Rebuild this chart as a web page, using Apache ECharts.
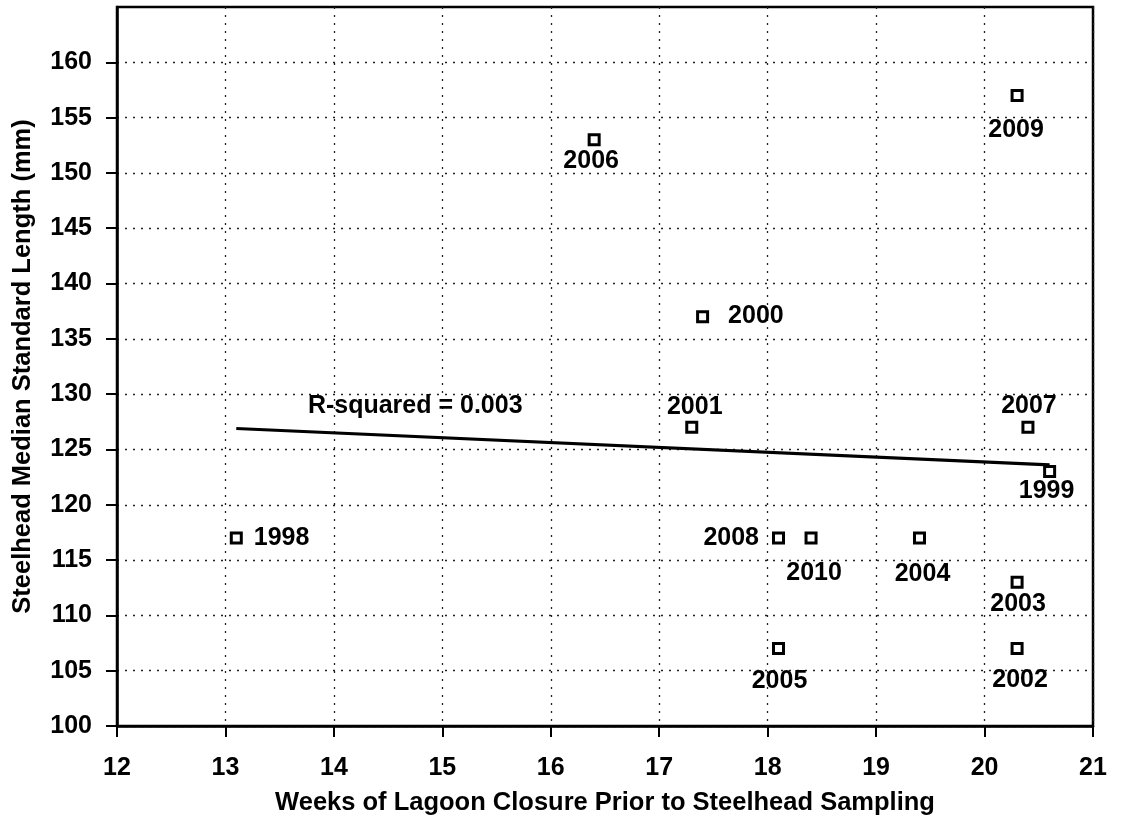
<!DOCTYPE html>
<html>
<head>
<meta charset="utf-8">
<script src="https://cdn.jsdelivr.net/npm/echarts@6/dist/echarts.min.js"></script>
<style>
  html, body { margin: 0; padding: 0; background: #fff; }
  #chart { width: 1122px; height: 823px; }
</style>
</head>
<body>
<div id="chart"></div>
<script>
// Sampling years, weeks of lagoon closure and median standard length (mm)
const years = ['1998', '1999', '2000', '2001', '2002', '2003', '2004', '2005', '2006', '2007', '2008', '2009', '2010'];
const weeksClosed = [13.1, 20.6, 17.4, 17.3, 20.3, 20.3, 19.4, 18.1, 16.4, 20.4, 18.1, 20.3, 18.4];
const medianLength = [117, 123, 137, 127, 107, 113, 117, 107, 153, 127, 117, 157, 117];

const xTicks = [12, 13, 14, 15, 16, 17, 18, 19, 20, 21];
const yTicks = [100, 105, 110, 115, 120, 125, 130, 135, 140, 145, 150, 155, 160];
const fitLabel = 'R-squared = 0.003';

// Where each year label sits relative to its marker
const labelPlacement = {
  '1998': { position: 'right', distance: 11, offset: [0, 0] },
  '1999': { position: 'inside', offset: [-3, 20] },
  '2000': { position: 'right', distance: 19, offset: [0, -1] },
  '2001': { position: 'inside', offset: [3, -20] },
  '2002': { position: 'inside', offset: [3, 32] },
  '2003': { position: 'inside', offset: [1, 22] },
  '2004': { position: 'inside', offset: [3, 36] },
  '2005': { position: 'inside', offset: [1, 33] },
  '2006': { position: 'inside', offset: [-3, 21] },
  '2007': { position: 'inside', offset: [1, -21] },
  '2008': { position: 'left', distance: 13, offset: [0, 0] },
  '2009': { position: 'inside', offset: [-1, 35] },
  '2010': { position: 'inside', offset: [3, 35] }
};

// Least-squares trend of length on weeks, drawn across the observed range
const n = weeksClosed.length;
const mx = weeksClosed.reduce((a, b) => a + b, 0) / n;
const my = medianLength.reduce((a, b) => a + b, 0) / n;
let sxy = 0, sxx = 0;
for (let i = 0; i < n; i++) {
  sxy += (weeksClosed[i] - mx) * (medianLength[i] - my);
  sxx += (weeksClosed[i] - mx) * (weeksClosed[i] - mx);
}
const slope = sxy / sxx;
const intercept = my - slope * mx;
const xLo = Math.min(...weeksClosed), xHi = Math.max(...weeksClosed);
const fitLine = [[xLo, intercept + slope * xLo], [xHi, intercept + slope * xHi]];

const FONT = '"Liberation Sans", Arial, Helvetica, sans-serif';
const textStyle = { fontFamily: FONT, fontWeight: 'bold', fontSize: 25, color: '#000' };
const titleStyle = Object.assign({}, textStyle, { fontSize: 25.5 });

const points = years.map((y, i) => {
  const p = labelPlacement[y];
  return {
    value: [weeksClosed[i], medianLength[i]],
    name: y,
    label: Object.assign({ show: true, formatter: y }, textStyle, p)
  };
});

const chart = echarts.init(document.getElementById('chart'), null, { renderer: 'canvas' });

const gridLine = { show: true, lineStyle: { color: '#222', type: [2, 6], width: 1.3 } };

chart.setOption({
  animation: false,
  backgroundColor: '#fff',
  grid: { left: 117, right: 29, top: 7, bottom: 97, show: true, borderColor: '#000', borderWidth: 2.5, backgroundColor: 'transparent' },
  xAxis: {
    type: 'value', min: 12, max: 21, interval: 1,
    name: 'Weeks of Lagoon Closure Prior to Steelhead Sampling',
    nameLocation: 'middle', nameGap: 64,
    nameTextStyle: titleStyle,
    axisLine: { show: true, onZero: false, lineStyle: { color: '#000', width: 2.5 } },
    axisTick: { show: true, length: 11, lineStyle: { color: '#000', width: 2 }, customValues: xTicks },
    axisLabel: Object.assign({ margin: 30, customValues: xTicks }, textStyle),
    splitLine: gridLine
  },
  yAxis: {
    type: 'value', min: 100, max: 165, interval: 5,
    name: 'Steelhead Median Standard Length (mm)',
    nameLocation: 'middle', nameGap: 81,
    nameTextStyle: titleStyle,
    axisLine: { show: true, onZero: false, lineStyle: { color: '#000', width: 2.5 } },
    axisTick: { show: true, length: 11, lineStyle: { color: '#000', width: 2 }, customValues: yTicks },
    axisLabel: Object.assign({ margin: 25, customValues: yTicks }, textStyle),
    splitLine: gridLine
  },
  series: [
    {
      type: 'line',
      data: fitLine,
      symbol: 'none',
      lineStyle: { color: '#000', width: 3.2 },
      z: 3,
      silent: true
    },
    {
      type: 'scatter',
      data: points,
      symbol: 'rect',
      symbolSize: 10,
      itemStyle: { color: '#fff', borderColor: '#000', borderWidth: 3, opacity: 1 },
      z: 4
    }
  ]
});

// Goodness-of-fit note placed in data coordinates above the trend line
const notePos = chart.convertToPixel({ gridIndex: 0 }, [14.75, 128.9]);
chart.setOption({
  graphic: [{
    type: 'text',
    x: notePos[0], y: notePos[1],
    style: { text: fitLabel, align: 'center', verticalAlign: 'middle', fill: '#000',
      font: 'bold 25px ' + FONT }
  }]
});
</script>
</body>
</html>
